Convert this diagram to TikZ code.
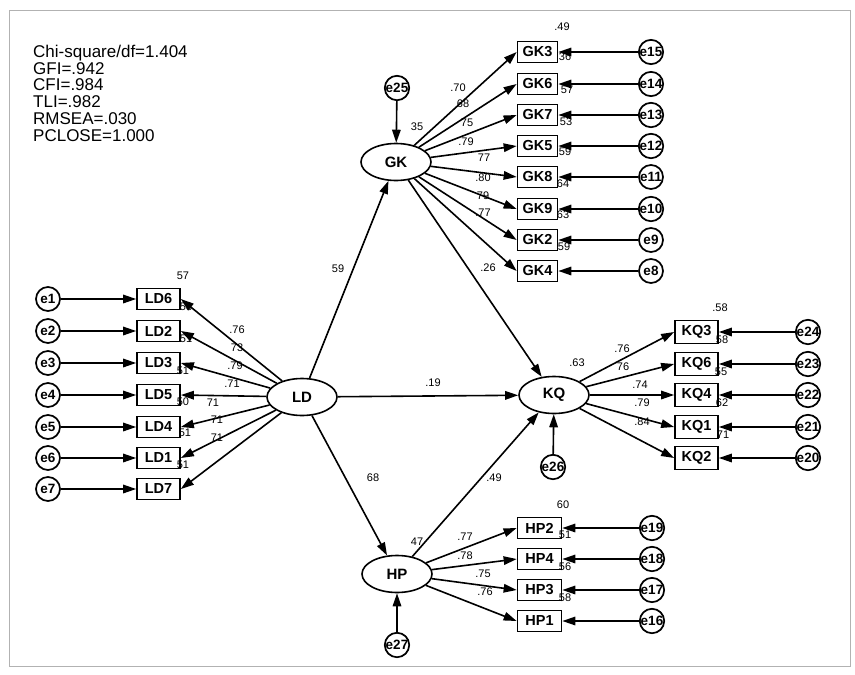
\documentclass[tikz,border=0pt]{standalone}
\usepackage{fontspec}
\setmainfont{Liberation Sans}
\usetikzlibrary{arrows.meta,shapes.geometric}
\begin{document}
\begin{tikzpicture}[x=1pt,y=-1pt,
 lat/.style={ellipse,draw,line width=1.6pt,minimum width=70pt,minimum height=37pt,inner sep=0pt,font=\fontsize{15}{15}\selectfont\bfseries},
 obs/.style={rectangle,draw,line width=1.7pt,minimum width=42pt,minimum height=21pt,inner sep=0pt,font=\fontsize{14.5}{14.5}\selectfont\bfseries},
 err/.style={circle,draw,line width=1.7pt,minimum size=24pt,inner sep=0pt,font=\fontsize{13.5}{13.5}\selectfont\bfseries},
 lbl/.style={inner sep=0pt,font=\fontsize{11}{11}\selectfont},
 arr/.style={-{Triangle[length=13pt,width=8.5pt]},line width=1.6pt},
]
\useasboundingbox (0,0) rectangle (855,675);
\draw[gray!60,line width=0.9pt] (9,10) rectangle (850,666);

\node[anchor=north west,align=left,inner sep=0pt,font=\fontsize{17}{16.7}\selectfont] (fit) at (33,45)
 {Chi-square/df=1.404\\GFI=.942\\CFI=.984\\TLI=.982\\RMSEA=.030\\PCLOSE=1.000};

% latent variables
\node[lat] (gk) at (396,162) {GK};
\node[lat] (ld) at (302,397) {LD};
\node[lat] (kq) at (554,395) {KQ};
\node[lat] (hp) at (397,574) {HP};

% disturbance terms
\node[err] (e25) at (397,88) {e25};
\node[err] (e26) at (553,467) {e26};
\node[err] (e27) at (397,645) {e27};
\draw[arr] (e25) -- (gk);
\draw[arr] (e26) -- (kq);
\draw[arr] (e27) -- (hp);

% GK indicators
\foreach \n/\t/\y/\e in {gk3/GK3/52/e15,gk6/GK6/84/e14,gk7/GK7/115/e13,gk5/GK5/146/e12,gk8/GK8/177/e11,gk9/GK9/209/e10,gk2/GK2/240/e9,gk4/GK4/271/e8}{
  \node[obs,minimum width=40pt] (\n) at (537.5,\y) {\t};
  \node[err] (\e) at (651,\y) {\e};
  \draw[arr] (\e) -- (\n);
  \draw[arr] (gk) -- (\n.west);
}
% LD indicators
\foreach \n/\t/\y/\e in {ld6/LD6/299/e1,ld2/LD2/331/e2,ld3/LD3/363/e3,ld5/LD5/395/e4,ld4/LD4/427/e5,ld1/LD1/458/e6,ld7/LD7/489/e7}{
  \node[obs,minimum width=43pt] (\n) at (158.5,\y) {\t};
  \node[err] (\e) at (48,\y) {\e};
  \draw[arr] (\e) -- (\n);
  \draw[arr] (ld) -- (\n.east);
}
% KQ indicators
\foreach \n/\t/\y/\e in {kq3/KQ3/332/e24,kq6/KQ6/364/e23,kq4/KQ4/395/e22,kq1/KQ1/427/e21,kq2/KQ2/458/e20}{
  \node[obs,minimum width=43pt,minimum height=23pt] (\n) at (696.5,\y) {\t};
  \node[err] (\e) at (808,\y) {\e};
  \draw[arr] (\e) -- (\n);
  \draw[arr] (kq) -- (\n.west);
}
% HP indicators
\foreach \n/\t/\y/\e in {hp2/HP2/528/e19,hp4/HP4/559/e18,hp3/HP3/590/e17,hp1/HP1/621/e16}{
  \node[obs,minimum width=44pt] (\n) at (539.5,\y) {\t};
  \node[err] (\e) at (652,\y) {\e};
  \draw[arr] (\e) -- (\n);
  \draw[arr] (hp) -- (\n.west);
}

% structural paths
\draw[arr] (ld) -- (gk);
\draw[arr] (ld) -- (kq);
\draw[arr] (ld) -- (hp);
\draw[arr] (gk) -- (kq);
\draw[arr] (hp) -- (kq);

% path coefficients
\node[lbl] (c1) at (338,269) {59};
\node[lbl] (c2) at (433,383) {.19};
\node[lbl] (c3) at (373,478) {68};
\node[lbl] (c4) at (488,268) {.26};
\node[lbl] (c5) at (494,478) {.49};

% squared multiple correlations of latents
\node[lbl] (r1) at (417,127) {35};
\node[lbl] (r2) at (577,363) {.63};
\node[lbl] (r3) at (417,542) {47};

% GK labels
\node[lbl] at (562,27) {.49};
\node[lbl] at (565,57) {36};
\node[lbl] at (567,90) {57};
\node[lbl] at (566,122) {53};
\node[lbl] at (565,152) {59};
\node[lbl] at (563,184) {64};
\node[lbl] at (563,215) {63};
\node[lbl] at (564,247) {59};
\node[lbl] at (458,88) {.70};
\node[lbl] at (463,104) {68};
\node[lbl] at (467,123) {75};
\node[lbl] at (466,142) {.79};
\node[lbl] at (484,158) {77};
\node[lbl] at (483,178) {.80};
\node[lbl] at (483,196) {79};
\node[lbl] at (483,213) {.77};

% LD labels
\node[lbl] at (183,276) {57};
\node[lbl] at (186,307) {53};
\node[lbl] at (186,339) {51};
\node[lbl] at (183,371) {51};
\node[lbl] at (183,402) {50};
\node[lbl] at (185,433) {51};
\node[lbl] at (183,465) {51};
\node[lbl] at (237,330) {.76};
\node[lbl] at (237,348) {73};
\node[lbl] at (235,366) {.79};
\node[lbl] at (232,384) {.71};
\node[lbl] at (213,403) {71};
\node[lbl] at (217,420) {71};
\node[lbl] at (217,438) {71};

% KQ labels
\node[lbl] at (720,308) {.58};
\node[lbl] at (722,340) {58};
\node[lbl] at (721,372) {55};
\node[lbl] at (722,403) {62};
\node[lbl] at (723,435) {71};
\node[lbl] at (622,349) {.76};
\node[lbl] at (623,367) {76};
\node[lbl] at (640,385) {.74};
\node[lbl] at (642,403) {.79};
\node[lbl] at (642,422) {.84};

% HP labels
\node[lbl] at (563,505) {60};
\node[lbl] at (565,535) {51};
\node[lbl] at (565,567) {56};
\node[lbl] at (565,598) {58};
\node[lbl] at (465,537) {.77};
\node[lbl] at (465,556) {.78};
\node[lbl] at (483,574) {.75};
\node[lbl] at (485,592) {.76};
\end{tikzpicture}
\end{document}
